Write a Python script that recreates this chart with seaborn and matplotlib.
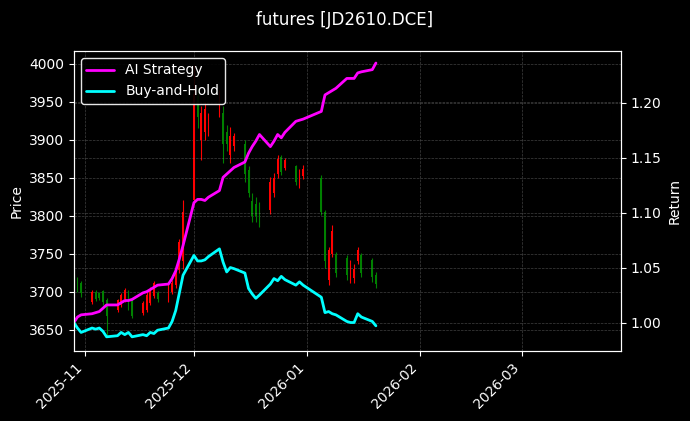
import pandas as pd
import numpy as np
import seaborn as sns
import matplotlib
matplotlib.use("Agg")
import matplotlib.pyplot as plt
import matplotlib.dates as mdates

# trading days shown in the chart
dates = pd.to_datetime([
    "2025-10-29", "2025-10-30", "2025-10-31",
    "2025-11-03", "2025-11-04", "2025-11-05", "2025-11-06", "2025-11-07",
    "2025-11-10", "2025-11-11", "2025-11-12", "2025-11-13", "2025-11-14",
    "2025-11-17", "2025-11-18", "2025-11-19", "2025-11-20", "2025-11-21",
    "2025-11-24", "2025-11-25", "2025-11-26", "2025-11-27", "2025-11-28",
    "2025-12-01", "2025-12-02", "2025-12-03", "2025-12-04", "2025-12-05",
    "2025-12-08", "2025-12-09", "2025-12-10", "2025-12-11", "2025-12-12",
    "2025-12-15", "2025-12-16", "2025-12-17", "2025-12-18", "2025-12-19",
    "2025-12-22", "2025-12-23", "2025-12-24", "2025-12-25", "2025-12-26",
    "2025-12-29", "2025-12-30", "2025-12-31",
    "2026-01-05", "2026-01-06", "2026-01-07", "2026-01-08", "2026-01-09",
    "2026-01-12", "2026-01-13", "2026-01-14", "2026-01-15", "2026-01-16",
    "2026-01-19", "2026-01-20",
])

opens = [3721, 3716, 3712, 3686, 3700, 3698, 3701, 3689,
         3676, 3683, 3690, 3700, 3690, 3672, 3676, 3685, 3694, 3699,
         3689, 3700, 3709, 3729, 3740, 3821, 3958, 3900, 3910, 3915,
         3935, 3935, 3910, 3880, 3892, 3895, 3860, 3820, 3815, 3810,
         3808, 3830, 3855, 3878, 3863, 3865, 3840, 3852,
         3850, 3805, 3715, 3750, 3750, 3745, 3715, 3718, 3740, 3748,
         3742, 3722]
highs = [3724, 3720, 3714, 3702, 3703, 3700, 3703, 3692,
         3691, 3698, 3705, 3703, 3692, 3688, 3700, 3706, 3714, 3701,
         3712, 3716, 3735, 3770, 3821, 3999, 3970, 3945, 3950, 3935,
         3965, 3945, 3920, 3917, 3909, 3900, 3865, 3830, 3825, 3818,
         3851, 3857, 3880, 3880, 3876, 3867, 3861, 3867,
         3854, 3808, 3759, 3788, 3753, 3749, 3742, 3736, 3759, 3751,
         3745, 3726]
lows = [3705, 3700, 3693, 3684, 3688, 3689, 3683, 3640,
        3673, 3680, 3687, 3676, 3665, 3670, 3674, 3683, 3692, 3687,
        3686, 3697, 3705, 3725, 3730, 3815, 3915, 3874, 3900, 3905,
        3930, 3870, 3885, 3870, 3885, 3845, 3825, 3792, 3792, 3785,
        3802, 3825, 3850, 3854, 3860, 3841, 3837, 3848,
        3801, 3732, 3709, 3746, 3720, 3716, 3712, 3712, 3736, 3720,
        3713, 3705]
closes = [3709, 3705, 3699, 3700, 3690, 3692, 3686, 3668,
          3689, 3696, 3703, 3680, 3668, 3685, 3696, 3703, 3712, 3690,
          3705, 3712, 3729, 3765, 3805, 3960, 3930, 3935, 3940, 3930,
          3960, 3895, 3895, 3905, 3905, 3855, 3830, 3800, 3800, 3795,
          3845, 3850, 3875, 3858, 3873, 3845, 3855, 3862,
          3805, 3740, 3755, 3780, 3725, 3722, 3738, 3730, 3755, 3725,
          3720, 3710]

ai_strategy = [1.000, 1.005, 1.007, 1.008, 1.009, 1.010, 1.013, 1.016,
               1.016, 1.018, 1.020, 1.020, 1.021, 1.027, 1.028, 1.030, 1.032, 1.034,
               1.035, 1.040, 1.047, 1.058, 1.070, 1.109, 1.112, 1.112, 1.111, 1.114,
               1.120, 1.132, 1.135, 1.138, 1.141, 1.146, 1.154, 1.160, 1.165, 1.171,
               1.160, 1.165, 1.171, 1.168, 1.173, 1.183, 1.184, 1.185,
               1.192, 1.207, 1.209, 1.211, 1.213, 1.222, 1.222, 1.222, 1.227, 1.228,
               1.230, 1.236]
buy_and_hold = [1.000, 0.995, 0.991, 0.995, 0.994, 0.995, 0.992, 0.987,
                0.988, 0.991, 0.989, 0.991, 0.987, 0.989, 0.988, 0.991, 0.990, 0.993,
                0.995, 1.001, 1.011, 1.027, 1.043, 1.061, 1.056, 1.056, 1.057, 1.060,
                1.067, 1.055, 1.046, 1.050, 1.049, 1.045, 1.031, 1.026, 1.022, 1.025,
                1.035, 1.040, 1.038, 1.042, 1.039, 1.034, 1.037, 1.034,
                1.023, 1.009, 1.010, 1.008, 1.007, 1.001, 1.000, 1.000, 1.008, 1.005,
                1.001, 0.997]

plt.style.use("dark_background")
sns.set_style("dark", {"axes.facecolor": "black", "figure.facecolor": "black",
                       "axes.edgecolor": "white", "text.color": "white",
                       "axes.labelcolor": "white", "xtick.color": "white",
                       "ytick.color": "white", "xtick.bottom": True, "ytick.left": True})
plt.rcParams["font.family"] = ["DejaVu Sans"]

fig, ax = plt.subplots(figsize=(6.9, 4.21), dpi=100)
fig.subplots_adjust(left=0.107, right=0.9, top=0.879, bottom=0.166)

df = pd.DataFrame({"date": dates, "open": opens, "high": highs,
                   "low": lows, "close": closes})
up = df["close"] >= df["open"]
colors = np.where(up, "red", "green")

# candles: wick + body
ax.vlines(df["date"], df["low"], df["high"], colors=colors, linewidth=0.8)
ax.bar(df["date"], (df["close"] - df["open"]).abs().clip(lower=1),
       bottom=np.minimum(df["open"], df["close"]), width=0.5, color=colors,
       edgecolor="none", linewidth=0)
ax.set_ylabel("Price")
ax.set_ylim(3622, 4017)
ax.grid(True, linestyle="--", linewidth=0.5, color="gray", alpha=0.5)

ax2 = ax.twinx()
ret = pd.DataFrame({"date": dates, "AI Strategy": ai_strategy,
                    "Buy-and-Hold": buy_and_hold})
sns.lineplot(data=ret, x="date", y="AI Strategy", ax=ax2, color="magenta",
             linewidth=2, label="AI Strategy")
sns.lineplot(data=ret, x="date", y="Buy-and-Hold", ax=ax2, color="cyan",
             linewidth=2, label="Buy-and-Hold")
ax2.set_ylabel("Return")
ax2.set_ylim(0.974, 1.247)
ax2.grid(True, linestyle="--", linewidth=0.5, color="gray", alpha=0.5)
ax2.legend(loc="upper left", facecolor="black", edgecolor="white", framealpha=0.9)

ax.set_xlim(pd.Timestamp("2025-10-29"), pd.Timestamp("2026-03-28 08:00"))
ax.xaxis.set_major_locator(mdates.MonthLocator())
ax.xaxis.set_major_formatter(mdates.DateFormatter("%Y-%m"))
ax.set_xlabel("")
ax2.set_xlabel("")
plt.setp(ax.get_xticklabels(), rotation=45, ha="right")
for a in (ax, ax2):
    for s in a.spines.values():
        s.set_color("white")

fig.suptitle("futures [JD2610.DCE]", fontsize=12, y=0.975)
fig.savefig("out.png", dpi=100, facecolor="black")
